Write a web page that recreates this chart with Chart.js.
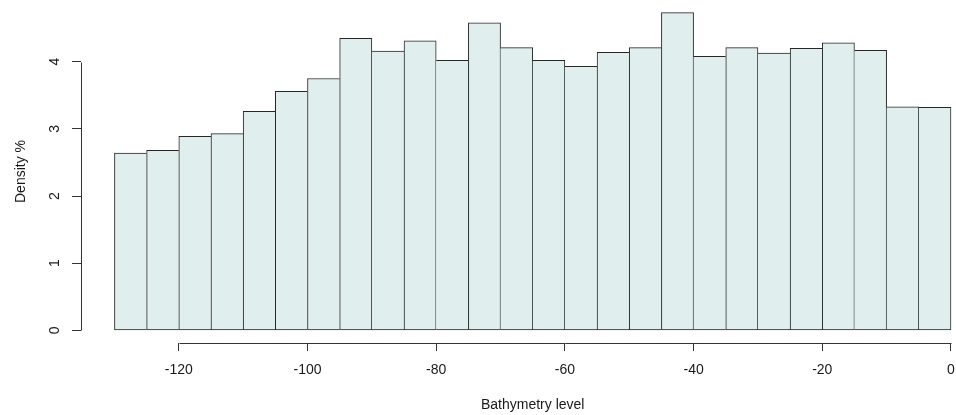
<!DOCTYPE html>
<html>
<head>
<meta charset="utf-8">
<title>Bathymetry histogram</title>
<script src="https://cdn.jsdelivr.net/npm/chart.js@4.4.1/dist/chart.umd.min.js"></script>
<style>
    html, body { margin: 0; padding: 0; background: #fff; }
    #wrap { width: 956px; height: 415px; position: relative; }
</style>
</head>
<body>
<div id="wrap"><canvas id="histchart"></canvas></div>
<script>
"use strict";

/* histogram bins (bathymetry level) and density % per bin */
var binEdges = [-130, -125, -120, -115, -110, -105, -100, -95, -90, -85, -80, -75, -70,
    -65, -60, -55, -50, -45, -40, -35, -30, -25, -20, -15, -10, -5, 0];
var density = [2.64, 2.68, 2.89, 2.93, 3.26, 3.56, 3.75, 4.35, 4.16, 4.31, 4.02, 4.58, 4.21,
    4.02, 3.93, 4.14, 4.21, 4.73, 4.08, 4.21, 4.13, 4.20, 4.28, 4.17, 3.33, 3.32];
var xTicks = [-120, -100, -80, -60, -40, -20, 0];
var yTicks = [0, 1, 2, 3, 4];

document.addEventListener("DOMContentLoaded", function () {
    var fontFamily = '"Liberation Sans", Arial, sans-serif';
    var inkColor = '#1a1a1a';
    var axisColor = '#333';
    /* R pads the bin range by 4% each side; the right part is cropped off */
    var plotMin = -135.2, plotMax = 5.2;

    /* R-style axes: lines only span the first..last tick, y labels rotated */
    var rAxes = {
        id: 'rAxes',
        afterDraw: function (chart) {
            var ctx = chart.ctx;
            var xs = chart.scales.x;
            var ys = chart.scales.y;
            var area = chart.chartArea;
            ctx.save();
            ctx.strokeStyle = axisColor;
            ctx.lineWidth = 1;
            ctx.beginPath();
            var yb = Math.round(area.bottom) + 0.5;
            ctx.moveTo(Math.round(xs.getPixelForValue(xTicks[0])) + 0.5, yb);
            ctx.lineTo(Math.round(xs.getPixelForValue(xTicks[xTicks.length - 1])) + 0.5, yb);
            var xl = Math.round(area.left) + 0.5;
            ctx.moveTo(xl, Math.round(ys.getPixelForValue(yTicks[0])) + 0.5);
            ctx.lineTo(xl, Math.round(ys.getPixelForValue(yTicks[yTicks.length - 1])) + 0.5);
            ctx.stroke();

            ctx.fillStyle = inkColor;
            ctx.font = '14px ' + fontFamily;
            ctx.textAlign = 'center';
            ctx.textBaseline = 'middle';
            yTicks.forEach(function (v) {
                ctx.save();
                ctx.translate(area.left - 26, ys.getPixelForValue(v));
                ctx.rotate(-Math.PI / 2);
                ctx.fillText(String(v), 0, 0);
                ctx.restore();
            });

            /* x title centred on the full (uncropped) plot region */
            var cx = (xs.getPixelForValue(plotMin) + xs.getPixelForValue(plotMax)) / 2;
            ctx.fillText('Bathymetry level', cx, area.bottom + 62);
            ctx.restore();
        }
    };

    var histData = density.map(function (d, i) {
        return { x: (binEdges[i] + binEdges[i + 1]) / 2, y: d };
    });

    var histCtx = document.getElementById('histchart').getContext('2d');

    var histConfig = {
        type: 'bar',
        data: {
            datasets: [{
                label: 'Density %',
                data: histData,
                backgroundColor: '#e0eeee',
                borderColor: '#262626',
                /* one shared 1px edge between neighbouring bars */
                borderWidth: function (c) {
                    var i = c.dataIndex;
                    var v = density[i];
                    return {
                        top: 1,
                        bottom: 1,
                        left: (i === 0 || v >= density[i - 1]) ? 1 : 0,
                        right: (i === density.length - 1 || v > density[i + 1]) ? 1 : 0
                    };
                },
                borderSkipped: false,
                barPercentage: 1,
                categoryPercentage: 1
            }]
        },
        options: {
            animation: false,
            responsive: true,
            maintainAspectRatio: false,
            layout: {
                padding: 0
            },
            plugins: {
                legend: { display: false },
                tooltip: { enabled: false }
            },
            scales: {
                x: {
                    type: 'linear',
                    min: plotMin,
                    max: 0.78,
                    offset: false,
                    afterBuildTicks: function (s) {
                        s.ticks = xTicks.map(function (v) { return { value: v }; });
                    },
                    afterFit: function (s) {
                        s.height = 72;
                        s.paddingLeft = 0;
                        s.paddingRight = 0;
                    },
                    border: { display: false },
                    grid: {
                        offset: false,
                        drawOnChartArea: false,
                        drawTicks: true,
                        tickLength: 8,
                        color: axisColor,
                        lineWidth: 1
                    },
                    ticks: {
                        autoSkip: false,
                        maxRotation: 0,
                        padding: 11,
                        color: inkColor,
                        font: { family: fontFamily, size: 14 }
                    },
                    title: { display: false }
                },
                y: {
                    type: 'linear',
                    min: -0.1892,
                    max: 4.9192,
                    afterBuildTicks: function (s) {
                        s.ticks = yTicks.map(function (v) { return { value: v }; });
                    },
                    afterFit: function (s) { s.width = 81; },
                    border: { display: false },
                    grid: {
                        drawOnChartArea: false,
                        drawTicks: true,
                        tickLength: 9,
                        color: axisColor,
                        lineWidth: 1
                    },
                    ticks: { display: false },
                    title: {
                        display: true,
                        text: 'Density %',
                        color: inkColor,
                        font: { family: fontFamily, size: 14, lineHeight: 1.2 },
                        padding: { top: 12.6, bottom: 0 }
                    }
                }
            }
        },
        plugins: [rAxes]
    };
    var histChart = new Chart(histCtx, histConfig);
});
</script>
</body>
</html>
